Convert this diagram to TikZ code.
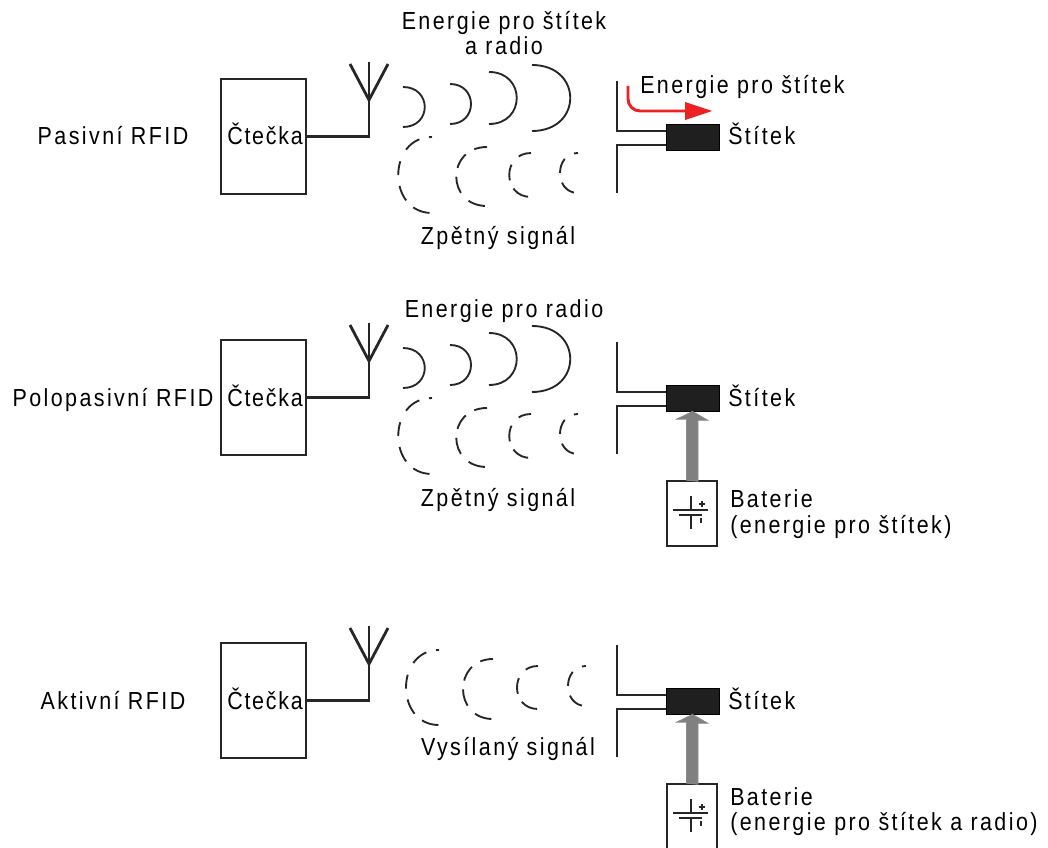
\documentclass[tikz,border=0pt]{standalone}
\usepackage{fontspec}
\setmainfont{Liberation Sans}[FakeStretch=0.87,LetterSpace=9.8]
\newfontfamily\readerfont{Liberation Sans}[FakeStretch=0.87,LetterSpace=7]
\definecolor{arrowred}{RGB}{237,32,36}
\tikzset{
  reader/.style={draw,draw=black!85,line width=1.2pt,minimum width=63.75pt,minimum height=86.25pt,inner sep=0pt},
  tag/.style={draw,fill=black!88,line width=0.5pt,minimum width=39.75pt,minimum height=19.5pt,inner sep=0pt},
  battery/.style={draw,draw=black!85,line width=1.2pt,minimum width=37.5pt,minimum height=48.75pt,inner sep=0pt},
  wire/.style={line width=2.1pt,draw=black!85},
  wave/.style={line width=1.4pt,draw=black!85},
  dashA/.style={wave,dash pattern=on 2.25pt off 7.5pt on 12.75pt off 9.75pt on 10.5pt off 8.25pt on 12pt off 7.5pt on 13pt off 40pt},
  dashB/.style={wave,dash pattern=on 9.75pt off 7.5pt on 12pt off 6.75pt on 12.75pt off 8.25pt on 13pt off 40pt},
  dashC/.style={wave,dash pattern=on 9.75pt off 8.25pt on 12pt off 6.75pt on 13pt off 40pt},
  dashD/.style={wave,dash pattern=on 3pt off 8.25pt on 11.25pt off 7.5pt on 12pt off 40pt},
  label/.style={font=\fontsize{18.5}{18.5}\selectfont,inner sep=0pt,anchor=base},
  leftlabel/.style={label,anchor=base west},
}
\begin{document}
\begin{tikzpicture}[x=0.75pt,y=-0.75pt]
  \useasboundingbox (0,0) rectangle (1048,848);

  % the parts that every row has
  \foreach \row/\shift in {1/0,2/195.75,3/423}{
    \begin{scope}[yshift=-\shift pt]
      \node[reader] (reader\row) at (263.5,136.5) {};
      \node[label] (readertext\row) at (265,145) {\readerfont Čtečka};
      \node[tag] (tag\row) at (692.5,137) {};
      \node[leftlabel] (tagtext\row) at (728,145) {Štítek};
      \coordinate (apex\row) at (369,100);
      \coordinate (mid\row) at (369,62);
      \coordinate (armL\row) at (350,64);
      \coordinate (armR\row) at (388,64);
      \coordinate (stubU\row) at (617,81);
      \coordinate (stubL\row) at (617,193);
      \coordinate (leadU\row) at (666,131);
      \coordinate (leadL\row) at (666,145);
      \draw[wire] (reader\row.east) -| (apex\row);
      \draw[wire] (apex\row) -- (mid\row);
      \draw[wire] (armL\row) -- (apex\row) -- (armR\row);
      \draw[wire] (stubU\row) |- (leadU\row);
      \draw[wire] (stubL\row) |- (leadL\row);
    \end{scope}
  }

  % energy waves
  \foreach \shift in {0,195.75}{
    \begin{scope}[yshift=-\shift pt]
      \draw[wave] (403,87) .. controls (432,87) and (432,127) .. (403,127);
      \draw[wave] (450,84) .. controls (478,84) and (478,124) .. (450,124);
      \draw[wave] (489,72) .. controls (526,72) and (526,124) .. (489,124);
      \draw[wave] (532,65) .. controls (583,65) and (583,131) .. (532,131);
      \draw[dashA] (432,137) .. controls (387,137) and (387,213) .. (432,213);
      \draw[dashB] (487,147) .. controls (446,147) and (446,206) .. (487,206);
      \draw[dashC] (531,153) .. controls (502,153) and (502,197) .. (531,197);
      \draw[dashD] (578,153) .. controls (554,153) and (554,193) .. (578,193);
    \end{scope}
  }
  \draw[dashA] (439,650) .. controls (395,650) and (395,725) .. (439,725);
  \draw[dashB] (493,659) .. controls (453,659) and (453,719) .. (493,719);
  \draw[dashC] (538,666) .. controls (510,666) and (510,709) .. (538,709);
  \draw[dashD] (586,666) .. controls (562,666) and (562,706) .. (586,706);

  % batteries
  \foreach \row/\shift in {2/195.75,3/423}{
    \begin{scope}[yshift=-\shift pt]
      \node[battery] (battery\row) at (692,252.5) {};
      \draw[draw=black!45,fill=black!50,line width=0.5pt] (battery\row.north) ++(-5.5,0) -- ++(0,-61) -- ++(-10,0)
        -- (tag\row.south) -- ++(15.5,9) -- ++(-10,0) -- ++(0,61) -- cycle;
      \draw[wave] (673,249) -- (708,249);
      \draw[wave] (679,254) -- (702,254);
      \draw[wave] (691,235) -- (691,249);
      \draw[wave] (691,254) -- (691,268);
      \draw[wave] (699,243) -- (705,243);
      \draw[wave] (702,240) -- (702,246);
      \draw[wave] (701,257) -- (701,262);
    \end{scope}
  }

  % red arrow
  \coordinate (redstart) at (628,86);
  \coordinate (redtip) at (712,111);
  \draw[draw=arrowred,line width=2.2pt,rounded corners=9pt,shorten >=15pt] (redstart) |- (redtip);
  \fill[arrowred] (redtip) -- (685,102) -- (685,120) -- cycle;

  % texts
  \node[label] (row1text) at (113,145) {Pasivní RFID};
  \node[label] (row2text) at (113,406) {Polopasivní RFID};
  \node[label] (row3text) at (113,709) {Aktivní RFID};
  \node[label] (energy1) at (504,30) {Energie pro štítek};
  \node[label] (energy2) at (504,55) {a radio};
  \node[leftlabel] (energy3) at (640,94) {Energie pro štítek};
  \node[label] (back1) at (498,245) {Zpětný signál};
  \node[label] (energy4) at (504,317) {Energie pro radio};
  \node[label] (back2) at (498,506) {Zpětný signál};
  \node[label] (sent) at (508,755) {Vysílaný signál};
  \node[leftlabel] (bat1) at (730,507) {Baterie};
  \node[leftlabel] (bat2) at (730,533) {(energie pro štítek)};
  \node[leftlabel] (bat3) at (730,805) {Baterie};
  \node[leftlabel] (bat4) at (730,830) {(energie pro štítek a radio)};
\end{tikzpicture}
\end{document}
